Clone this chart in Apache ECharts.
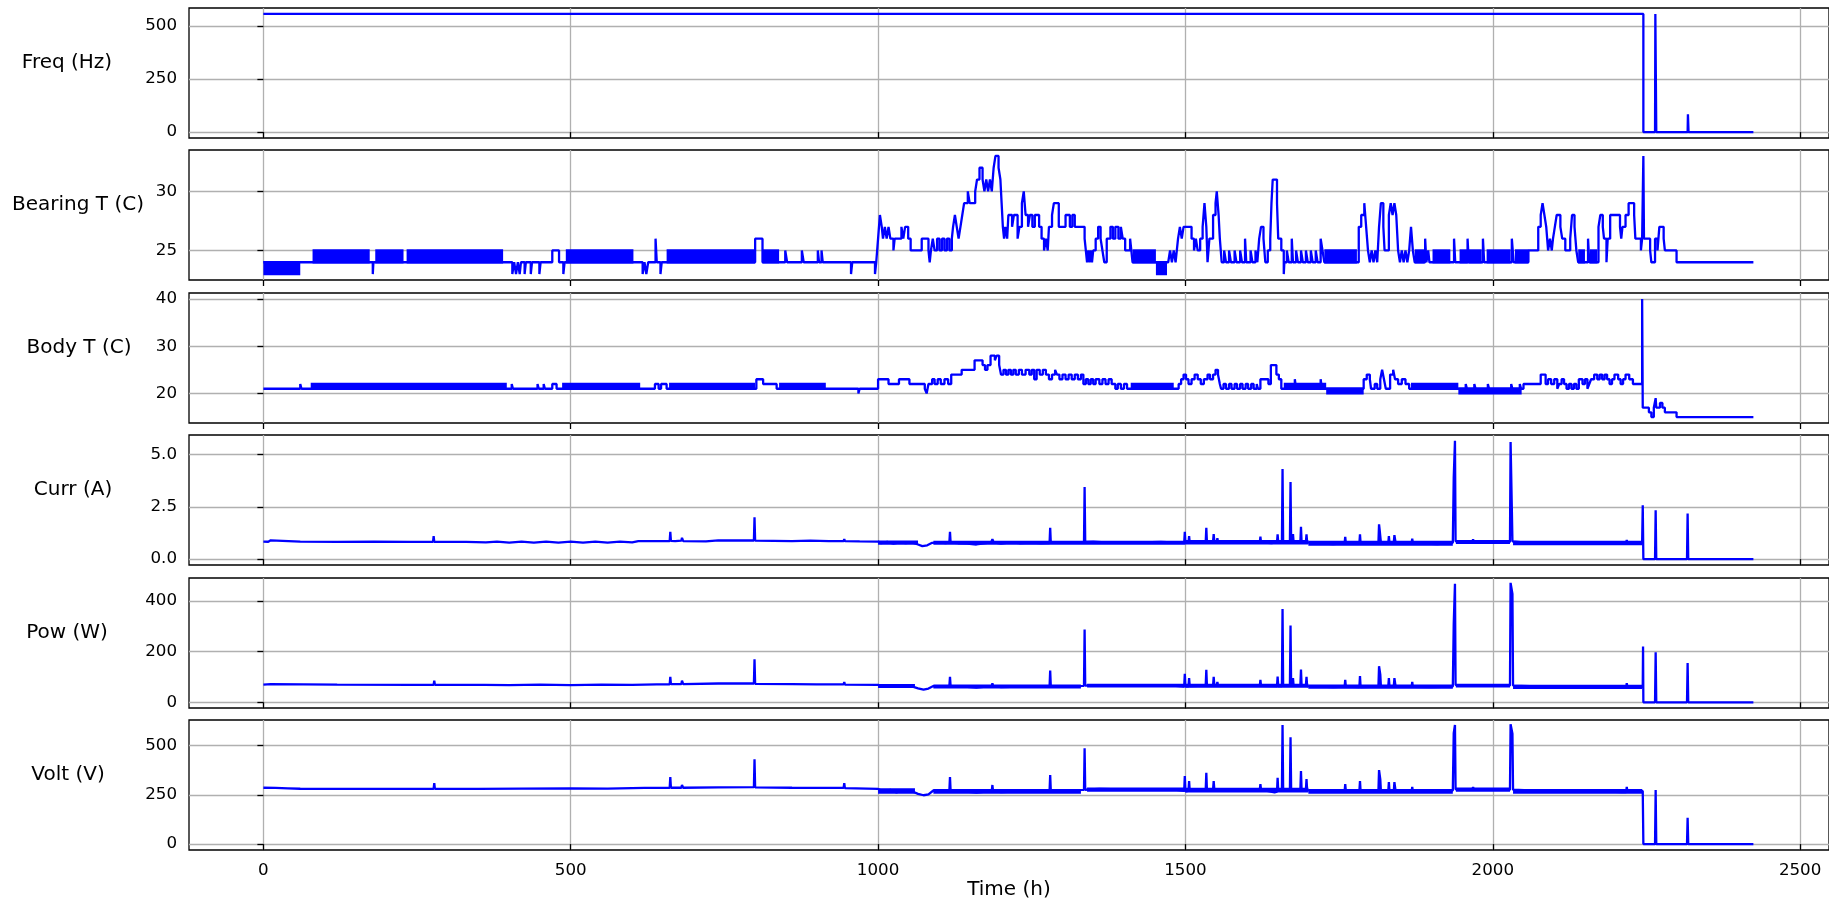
<!DOCTYPE html>
<html><head><meta charset="utf-8">
<script src="https://cdn.jsdelivr.net/npm/echarts@6/dist/echarts.min.js"></script>
<style>html,body{margin:0;padding:0;background:#fff}#c{width:1829px;height:904px}</style>
</head><body><div id="c"></div>
<script>
// ---- data (time in hours, value) ----
const xTicks = [0, 500, 1000, 1500, 2000, 2500];
const panelNames = ['Freq (Hz)', 'Bearing T (C)', 'Body T (C)', 'Curr (A)', 'Pow (W)', 'Volt (V)'];
const yTicks = [[0, 250, 500], [25, 30], [20, 30, 40], [0, 2.5, 5], [0, 200, 400], [0, 250, 500]];
const yMins = [-27.8, 22.5, 13.75, -0.28, -22.5, -30];
const yMaxs = [583.8, 33.5, 41.25, 5.93, 490, 630];

const freq = [[0,556],[2245,556],[2245,0],[2264,0],[2264.5,556],[2265.5,556],[2266,0],[2317,0],[2317.5,84],[2318,84],[2318.5,0],[2424,0]];

// stepped readings [time, value]
const bearingT = [
[0,24],[178,23],[179,24],[405,23],[408,24],[411,23],[414,24],[417,23],[419,24],[425,23],[427,24],[435,23],[437,24],[449,23],[451,24],[470,25],[481,24],[488,23],[490,24],
[617,23],[620,24],[623,23],[626,24],[638,26],[640,24],[646,23],[648,24],
[800,26],[812,24],[849,25],[852,24],[876,25],[879,24],[902,25],[904,24],[908,25],[910,24],[956,23],[958,24],[995,23],[997,24],
[1000,26],[1003,28],[1006,27],[1008,26],[1011,27],[1014,26],[1017,27],[1020,26],[1025,25],[1027,26],[1038,27],[1041,26],[1044,27],[1049,26],[1053,25],[1071,26],[1082,25],[1084,24],[1086,25],[1089,26],[1092,25],[1096,26],[1100,25],[1104,26],[1108,25],[1112,26],[1116,25],[1120,26],[1122,27],[1125,28],[1128,27],[1131,26],[1134,27],[1137,28],[1140,29],[1146,30],[1149,29],[1158,30],[1161,31],[1165,32],[1170,31],[1173,30],[1176,31],[1179,30],[1182,31],[1185,30],[1188,32],[1191,33],[1196,32],[1199,31],[1201,29],[1203,27],[1205,26],[1207,27],[1210,26],[1212,28],[1218,27],[1221,28],[1227,26],[1230,27],[1234,29],[1237,30],[1240,28],[1244,27],[1247,28],[1251,27],[1255,28],[1262,27],[1266,26],[1270,25],[1273,26],[1276,25],[1278,27],[1283,28],[1286,29],[1294,27],[1305,28],[1312,27],[1316,28],[1320,27],[1336,26],[1338,25],[1340,24],[1342,25],[1344,24],[1346,25],[1348,24],[1350,25],[1354,26],[1358,27],[1362,26],[1365,25],[1368,24],[1372,26],[1378,27],[1382,26],[1386,27],[1391,26],[1395,27],[1398,26],[1402,25],[1410,26],[1412,25],
[1414,24],[1472,24],[1475,25],[1478,24],[1481,25],[1484,24],[1486,25],[1488,26],[1491,27],[1494,26],[1497,27],[1510,26],[1514,25],[1517,26],[1520,25],[1524,26],[1528,27],[1531,29],[1534,27],[1536,24],[1539,26],[1545,28],[1549,29],[1551,30],[1554,28],[1556,26],[1559,24],[1563,25],[1566,24],[1571,25],[1574,24],[1580,25],[1583,24],[1589,25],[1592,24],[1597,26],[1599,24],[1606,25],[1609,24],[1614,25],[1617,24],[1620,26],[1623,27],[1627,26],[1630,24],[1634,25],[1638,26],[1640,29],[1642,31],[1649,29],[1651,26],[1656,25],[1660,23],[1661,24],[1665,25],[1668,24],[1673,26],[1675,24],[1680,25],[1683,24],[1688,25],[1691,24],[1696,25],[1699,24],[1704,25],[1707,24],[1712,25],[1715,24],[1720,26],[1723,25],[1726,24],
[1782,27],[1786,28],[1791,29],[1794,27],[1797,25],[1800,24],[1803,25],[1806,24],[1809,25],[1812,24],[1815,27],[1818,29],[1822,27],[1824,25],[1831,28],[1834,29],[1837,28],[1840,29],[1843,28],[1846,25],[1849,24],[1852,25],[1855,24],[1858,25],[1861,24],[1864,25],[1867,27],[1870,25],[1873,24],[1890,26],[1892,24],[1895,25],[1897,24],[1937,26],[1939,24],[1959,26],[1961,24],[1984,26],[1986,24],[2031,26],[2034,24],[2058,25],
[2074,27],[2078,28],[2081,29],[2084,28],[2087,27],[2090,25],[2093,26],[2096,25],[2098,26],[2101,27],[2104,28],[2110,27],[2113,26],[2118,25],[2126,26],[2129,28],[2133,27],[2136,25],[2139,24],[2155,26],[2157,24],[2172,27],[2175,28],[2179,27],[2181,26],[2185,24],[2187,26],[2191,28],[2207,27],[2209,26],[2211,27],[2216,28],[2221,29],[2230,28],[2232,26],[2241,25],[2243,26],[2245,33],[2246,26],[2256,25],[2258,24],[2264,26],[2268,25],[2271,27],[2278,26],[2280,25],[2299,24],[2424,24]
];
// spans where the reading flickers between two levels [from, to, low, high]
const bearingFlicker = [[0,60,23,24],[80,173,24,25],[182,228,24,25],[233,390,24,25],[492,602,24,25],[656,800,24,25],[812,839,24,25],[1414,1452,24,25],[1452,1470,23,24],[1726,1779,24,25],[1873,1889,24,25],[1902,1931,24,25],[1946,1982,24,25],[1990,2029,24,25],[2036,2058,24,25],[2139,2150,24,25],[2158,2170,24,25]];

const bodyT = [
[0,21],[60,22],[62,21],[404,22],[406,21],[446,22],[448,21],[456,22],[458,21],[470,22],[477,21],[637,22],[643,21],[647,22],[656,21],
[802,23],[813,22],[835,21],[968,20],[970,21],
[1000,23],[1017,22],[1034,23],[1051,22],[1076,21],[1079,20],[1082,22],[1088,23],[1092,22],[1097,23],[1102,22],[1108,23],[1114,22],[1119,24],[1136,25],[1157,27],[1170,26],[1174,25],[1178,26],[1183,28],[1190,27],[1193,28],[1197,26],[1200,24],[1204,25],[1208,24],[1212,25],[1216,24],[1220,25],[1224,24],[1229,25],[1234,24],[1240,25],[1246,24],[1250,25],[1254,23],[1258,25],[1263,24],[1268,25],[1273,24],[1278,23],[1283,24],[1288,25],[1291,24],[1295,23],[1300,24],[1305,23],[1310,24],[1315,23],[1320,24],[1325,23],[1330,24],[1334,22],[1338,23],[1342,22],[1346,23],[1350,22],[1354,23],[1360,22],[1365,23],[1370,22],[1375,23],[1380,22],[1386,21],[1390,22],[1395,21],[1400,22],[1405,21],
[1489,22],[1493,23],[1497,24],[1501,23],[1505,22],[1510,23],[1515,24],[1520,23],[1525,22],[1530,23],[1536,24],[1540,23],[1545,24],[1549,25],[1553,24],[1556,22],[1558,21],[1562,22],[1566,21],[1571,22],[1575,21],[1580,22],[1584,21],[1589,22],[1593,21],[1598,22],[1602,21],[1607,22],[1611,21],[1616,22],[1618,21],
[1622,23],[1635,22],[1639,26],[1648,24],[1652,23],[1656,21],[1678,23],[1680,21],[1720,23],[1722,21],
[1790,23],[1795,24],[1800,23],[1802,21],[1808,22],[1812,21],[1817,23],[1820,25],[1823,23],[1826,21],[1833,24],[1838,25],[1841,23],[1846,22],[1852,23],[1858,22],[1864,21],
[1956,22],[1958,21],[1970,22],[1972,21],[1992,22],[1994,21],[2030,22],[2032,21],[2044,22],[2046,21],
[2050,22],[2078,24],[2086,22],[2090,23],[2095,22],[2100,23],[2105,21],[2108,22],[2112,23],[2116,22],[2120,21],[2124,22],[2128,21],[2132,22],[2136,21],[2140,23],[2146,22],[2150,23],[2154,21],[2157,22],[2160,23],[2165,24],[2170,23],[2174,24],[2178,23],[2182,24],[2186,23],[2190,22],[2194,23],[2198,24],[2204,23],[2208,22],[2212,23],[2216,24],[2222,23],[2228,22],
[2243,40],[2244,17],[2254,16],[2258,15],[2262,17],[2265,19],[2266,17],[2272,18],[2276,17],[2280,16],[2299,15],[2424,15]
];
const bodyFlicker = [[77,396,21,22],[486,613,21,22],[660,800,21,22],[839,915,21,22],[1411,1481,21,22],[1660,1729,21,22],[1729,1790,20,21],[1867,1944,21,22],[1944,2047,20,21]];

const curr = [
[0,0.84],[8,0.83],[12,0.9],[14,0.83],[60,0.84],[120,0.82],[180,0.83],[240,0.82],[276,0.83],[277,1.1],[278,0.83],[330,0.82],[362,0.80],[380,0.84],[400,0.79],[420,0.84],[440,0.79],[460,0.84],[480,0.79],[500,0.84],[520,0.79],[540,0.84],[560,0.79],[580,0.84],[600,0.80],[610,0.86],[640,0.86],[661,0.86],[662,1.3],[663,0.87],[670,0.86],[680,0.88],[681,1.02],[683,0.86],[720,0.85],[740,0.90],[760,0.89],[798,0.89],[799,2.0],[800,0.88],[830,0.87],[860,0.86],[890,0.88],[920,0.86],[944,0.86],[945,0.96],[946,0.86],[970,0.85],
[1000,0.84],[1005,0.76],[1015,0.82],[1025,0.74],[1035,0.80],[1045,0.76],[1055,0.80],[1065,0.70],[1072,0.62],[1080,0.66],[1088,0.78],[1100,0.80],[1110,0.76],[1116,0.80],[1117,1.3],[1118,0.79],[1130,0.76],[1145,0.74],[1160,0.70],[1175,0.76],[1184,0.80],[1186,0.95],[1188,0.80],[1200,0.74],[1215,0.80],[1230,0.76],[1250,0.78],[1265,0.75],[1279,0.77],[1280,1.5],[1281,0.78],[1300,0.80],[1320,0.78],[1335,0.80],[1336,3.44],[1337,0.82],[1350,0.84],[1370,0.80],[1400,0.78],[1430,0.80],[1460,0.82],[1480,0.80],[1498,0.78],[1499,1.31],[1500,0.78],[1505,0.78],[1506,1.1],[1507,0.78],[1520,0.82],[1533,0.80],[1534,1.5],[1535,0.82],[1540,0.86],[1545,0.86],[1546,1.2],[1547,0.85],[1551,0.84],[1552,1.0],[1553,0.82],[1580,0.80],[1600,0.78],[1621,0.80],[1622,1.07],[1623,0.80],[1640,0.76],[1649,0.80],[1650,1.18],[1651,0.80],[1657,0.80],[1658,4.31],[1659,0.82],[1665,0.84],[1670,0.82],[1671,3.68],[1672,0.84],[1674,0.83],[1675,1.2],[1676,0.82],[1687,0.82],[1688,1.55],[1689,0.82],[1696,0.82],[1697,1.18],[1698,0.80],[1720,0.76],[1740,0.72],[1759,0.76],[1760,1.07],[1761,0.76],[1783,0.74],[1784,1.18],[1785,0.74],[1800,0.76],[1814,0.78],[1815,1.66],[1816,1.4],[1818,0.80],[1830,0.76],[1831,1.1],[1832,0.78],[1839,0.80],[1840,1.15],[1842,0.78],[1868,0.76],[1869,0.98],[1870,0.76],[1890,0.74],[1910,0.72],[1935,0.78],[1936.5,3.9],[1938.5,5.65],[1939.5,0.85],[1950,0.86],[1967,0.84],[1968,0.95],[1969,0.82],[1990,0.80],[2010,0.82],[2028,0.82],[2029,5.6],[2031,5.65],[2032,0.85],[2050,0.80],[2070,0.76],[2090,0.78],[2110,0.74],[2130,0.78],[2150,0.76],[2170,0.74],[2190,0.76],[2210,0.74],[2217,0.78],[2218,0.92],[2219,0.76],[2243,0.78],[2244,2.57],[2245,0],[2264,0],[2265,2.34],[2266,0],[2316,0],[2317,2.18],[2318,0],[2424,0]
];
const currNoise = [[1000,1065,0.74,0.84],[1090,1500,0.74,0.82],[1500,1700,0.76,0.86],[1700,1935,0.70,0.82],[1940,2028,0.78,0.86],[2033,2243,0.72,0.82]];

const pow = [
[0,70],[12,72],[14,70],[120,70],[240,69],[277,69],[278,85],[279,69],[360,69],[400,68],[450,70],[500,68],[550,70],[600,69],[640,71],[661,71],[662,100],[663,72],[680,72],[681,85],[683,72],[740,74],[798,74],[799,170],[800,73],[860,72],[900,71],[944,71],[945,80],[946,70],
[1000,69],[1010,62],[1020,67],[1030,61],[1040,65],[1055,63],[1065,55],[1074,50],[1082,54],[1090,64],[1110,63],[1116,65],[1117,100],[1118,64],[1140,62],[1160,58],[1175,62],[1185,65],[1186,75],[1187,65],[1200,60],[1230,62],[1250,63],[1279,62],[1280,125],[1281,63],[1310,64],[1335,65],[1336,287],[1337,66],[1360,68],[1400,66],[1440,67],[1480,66],[1498,62],[1499,112],[1500,63],[1505,63],[1506,95],[1507,64],[1533,66],[1534,128],[1535,66],[1545,66],[1546,100],[1547,68],[1551,68],[1552,80],[1553,66],[1590,65],[1621,65],[1622,88],[1623,65],[1649,64],[1650,101],[1651,64],[1657,64],[1658,368],[1659,66],[1670,66],[1671,303],[1672,66],[1674,66],[1675,95],[1676,66],[1687,66],[1688,129],[1689,66],[1696,66],[1697,100],[1698,64],[1720,62],[1740,60],[1759,62],[1760,88],[1761,62],[1783,60],[1784,103],[1785,60],[1814,62],[1815,142],[1817,110],[1818,64],[1830,62],[1831,95],[1832,62],[1839,64],[1840,95],[1842,62],[1868,61],[1869,80],[1870,61],[1900,60],[1935,62],[1936.5,309],[1938.5,467],[1939.5,68],[1967,68],[1968,75],[1969,66],[2000,66],[2028,66],[2029,471],[2031,471],[2032,427],[2033,66],[2060,64],[2090,62],[2120,63],[2150,60],[2180,61],[2210,58],[2217,58],[2218,75],[2219,60],[2244,62],[2244.5,220],[2245,0],[2264,0],[2265,197],[2266,0],[2316,0],[2317,155],[2318,0],[2424,0]
];
const powNoise = [[1000,1060,61,68],[1090,1330,59,66],[1340,1500,63,69],[1500,1700,62,69],[1700,1935,58,66],[1940,2028,63,69],[2033,2243,57,65]];

const volt = [
[0,286],[20,285],[40,283],[60,281],[120,280],[200,280],[277,281],[278,310],[279,281],[350,280],[420,282],[500,283],[560,282],[620,285],[661,286],[662,340],[663,286],[680,286],[681,300],[683,286],[740,288],[798,289],[799,430],[800,288],[860,286],[900,285],[944,286],[945,310],[946,284],
[1000,280],[1010,265],[1020,275],[1030,262],[1040,272],[1055,268],[1065,255],[1074,248],[1082,252],[1090,272],[1110,270],[1116,272],[1117,340],[1118,270],[1140,268],[1160,262],[1175,266],[1185,272],[1186,300],[1187,270],[1200,264],[1230,268],[1250,270],[1279,270],[1280,350],[1281,272],[1310,274],[1335,275],[1336,486],[1337,276],[1360,280],[1400,278],[1440,276],[1480,278],[1498,270],[1499,345],[1500,268],[1505,270],[1506,320],[1507,270],[1533,274],[1534,362],[1535,276],[1545,278],[1546,320],[1547,278],[1590,276],[1621,276],[1622,305],[1623,276],[1645,262],[1649,266],[1650,337],[1651,270],[1657,274],[1658,605],[1659,276],[1670,276],[1671,542],[1672,276],[1687,276],[1688,371],[1689,276],[1696,276],[1697,330],[1698,274],[1720,270],[1740,265],[1759,268],[1760,305],[1761,268],[1783,268],[1784,320],[1785,268],[1814,270],[1815,376],[1817,330],[1818,270],[1830,268],[1831,315],[1832,268],[1839,268],[1840,315],[1842,268],[1868,266],[1869,290],[1870,266],[1900,268],[1935,272],[1936.5,563],[1938.5,605],[1939.5,278],[1967,278],[1968,290],[1969,278],[2000,278],[2028,276],[2029,609],[2031,609],[2032,560],[2033,276],[2060,272],[2090,268],[2120,270],[2150,266],[2180,268],[2210,264],[2217,264],[2218,290],[2219,266],[2244,270],[2245,0],[2264,0],[2265,274],[2266,0],[2316,0],[2317,134],[2318,0],[2424,0]
];
const voltNoise = [[1000,1060,262,278],[1090,1330,262,274],[1340,1500,272,282],[1500,1700,268,280],[1700,1935,262,274],[1940,2028,272,282],[2033,2243,262,274]];

const seriesData = [freq, bearingT, bodyT, curr, pow, volt];
const bandData = [null, bearingFlicker, bodyFlicker, currNoise, powNoise, voltNoise];
const stepped = [false, 'end', 'end', false, false, false];

// ---- layout ----
const FONT = 'DejaVu Sans';
const BLUE = '#0000ff';
const LW = 2.3;
const tops = [8, 150, 293, 435, 578, 720];
const H = 130;
const nameGaps = [122, 111, 110, 116, 122, 121];

function bandItem(params, api) {
  const a = api.coord([api.value(0), api.value(3)]);
  const b = api.coord([api.value(1), api.value(2)]);
  return { type: 'rect', shape: { x: a[0], y: a[1] - LW / 2, width: b[0] - a[0], height: b[1] - a[1] + LW }, style: { fill: BLUE } };
}

const grids = [], xAxes = [], yAxes = [], series = [];
for (let i = 0; i < 6; i++) {
  grids.push({ left: 189, right: -2, top: tops[i], height: H, show: true, borderColor: '#000', borderWidth: 1.3, backgroundColor: 'transparent' });
  const last = i === 5;
  xAxes.push({
    type: 'value', gridIndex: i, min: -121, max: 2547,
    axisLine: { show: false },
    axisTick: { show: true, inside: false, length: 6, customValues: xTicks, lineStyle: { color: '#000', width: 1.3 } },
    axisLabel: { show: last, customValues: xTicks, fontFamily: FONT, fontSize: 16.7, color: '#000', margin: 12, formatter: v => String(v) },
    splitLine: { show: true, customValues: xTicks, lineStyle: { color: '#b0b0b0', width: 1.3 } },
    name: last ? 'Time (h)' : '', nameLocation: 'middle', nameGap: 30,
    nameTextStyle: { fontFamily: FONT, fontSize: 20, color: '#000' }
  });
  const isCurr = i === 3;
  yAxes.push({
    type: 'value', gridIndex: i, min: yMins[i], max: yMaxs[i],
    axisLine: { show: false },
    axisTick: { show: true, inside: false, length: 6, customValues: yTicks[i], lineStyle: { color: '#000', width: 1.3 } },
    axisLabel: { customValues: yTicks[i], fontFamily: FONT, fontSize: 16.7, color: '#000', margin: 12,
      formatter: v => isCurr ? Number(v).toFixed(1) : String(v) },
    splitLine: { show: true, customValues: yTicks[i], lineStyle: { color: '#b0b0b0', width: 1.3 } },
    name: panelNames[i], nameLocation: 'middle', nameRotate: 0, nameGap: nameGaps[i],
    nameTextStyle: { fontFamily: FONT, fontSize: 20, color: '#000', align: 'center', verticalAlign: 'bottom' }
  });
  if (bandData[i]) {
    series.push({
      type: 'custom', xAxisIndex: i, yAxisIndex: i, data: bandData[i], renderItem: bandItem,
      encode: { x: [0, 1], y: [2, 3] }, clip: true, z: 2, silent: true, animation: false
    });
  }
  series.push({
    type: 'line', xAxisIndex: i, yAxisIndex: i, data: seriesData[i], step: stepped[i],
    showSymbol: false, symbol: 'none', lineStyle: { color: BLUE, width: LW }, itemStyle: { color: BLUE },
    z: 3, silent: true, animation: false
  });
}

const chart = echarts.init(document.getElementById('c'), null, { renderer: 'canvas' });
chart.setOption({ animation: false, backgroundColor: '#fff', grid: grids, xAxis: xAxes, yAxis: yAxes, series: series });
</script></body></html>
